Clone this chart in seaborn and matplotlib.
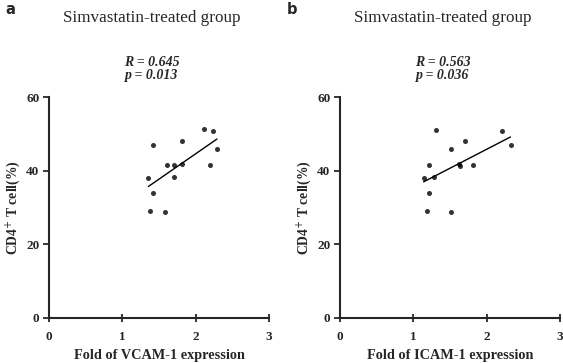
import numpy as np
import pandas as pd
import seaborn as sns
import matplotlib.pyplot as plt

# data
vcam_fold = [1.415, 1.355, 1.415, 1.374, 1.58, 1.615, 1.705, 1.705, 1.81, 1.82, 2.11, 2.23, 2.29, 2.20]
vcam_cd4 = [47.0, 38.0, 34.0, 29.0, 28.8, 41.6, 41.6, 38.4, 48.1, 41.9, 51.2, 50.8, 45.8, 41.5]
icam_fold = [1.31, 2.215, 2.325, 1.71, 1.51, 1.21, 1.62, 1.63, 1.82, 1.14, 1.28, 1.22, 1.18, 1.52]
icam_cd4 = [51.0, 50.7, 46.9, 48.0, 45.8, 41.5, 41.7, 41.3, 41.5, 38.0, 38.4, 33.9, 29.0, 28.7]

panels = ['a', 'b']
titles = ['Simvastatin-treated group', 'Simvastatin-treated group']
stats = ['R = 0.645\np = 0.013', 'R = 0.563\np = 0.036']
xlabels = ['Fold of VCAM-1 expression', 'Fold of ICAM-1 expression']
x_ticks = [0, 1, 2, 3]
y_ticks = [0, 20, 40, 60]

sns.set_style('ticks')
plt.rcParams['font.family'] = ['Liberation Serif', 'DejaVu Serif']

W, H = 563, 363
fig = plt.figure(figsize=(W / 100, H / 100), dpi=100)

ax_lefts = [49, 340]
frames = [pd.DataFrame({'x': vcam_fold, 'y': vcam_cd4}),
          pd.DataFrame({'x': icam_fold, 'y': icam_cd4})]

for i, df in enumerate(frames):
    left = ax_lefts[i]
    ax = fig.add_axes([left / W, 1 - 318 / H, 220 / W, 221 / H])
    sns.regplot(x='x', y='y', data=df, ax=ax, ci=None, color='black',
                scatter_kws={'s': 13, 'linewidths': 0},
                line_kws={'lw': 1.0})
    ax.set_xlim(0, 3)
    ax.set_ylim(0, 60)
    ax.set_xticks(x_ticks)
    ax.set_yticks(y_ticks)
    ax.set_xticklabels([str(t) for t in x_ticks], fontweight='bold', fontsize=9.5)
    ax.set_yticklabels([str(t) for t in y_ticks], fontweight='bold', fontsize=9.5)
    ax.tick_params(axis='y', direction='out', length=4, width=1.3, pad=3)
    ax.tick_params(axis='x', direction='inout', length=6, width=1.3, pad=6)
    for s in ['left', 'bottom']:
        ax.spines[s].set_linewidth(1.5)
    for s in ['top', 'right']:
        ax.spines[s].set_visible(False)
    ax.patch.set_alpha(0)
    ax.set_xlabel(xlabels[i], fontweight='bold', fontsize=10.3, labelpad=5)
    ax.set_ylabel('CD4$^{+}$ T cell(%)', fontweight='bold', fontsize=9.8, labelpad=2)

    cx = left + 103
    fig.text(cx / W, 1 - 18 / H, titles[i], ha='center', va='center', fontsize=12.3)
    fig.text(cx / W, 1 - 69 / H, stats[i], ha='center', va='center', fontsize=10,
             fontweight='bold', fontstyle='italic', linespacing=1.1)
    fig.text((5 + 282 * i) / W, 1 - 9 / H, panels[i], ha='left', va='center',
             fontsize=10.5, fontweight='bold', family='DejaVu Sans')

plt.savefig('out.png', dpi=100)
